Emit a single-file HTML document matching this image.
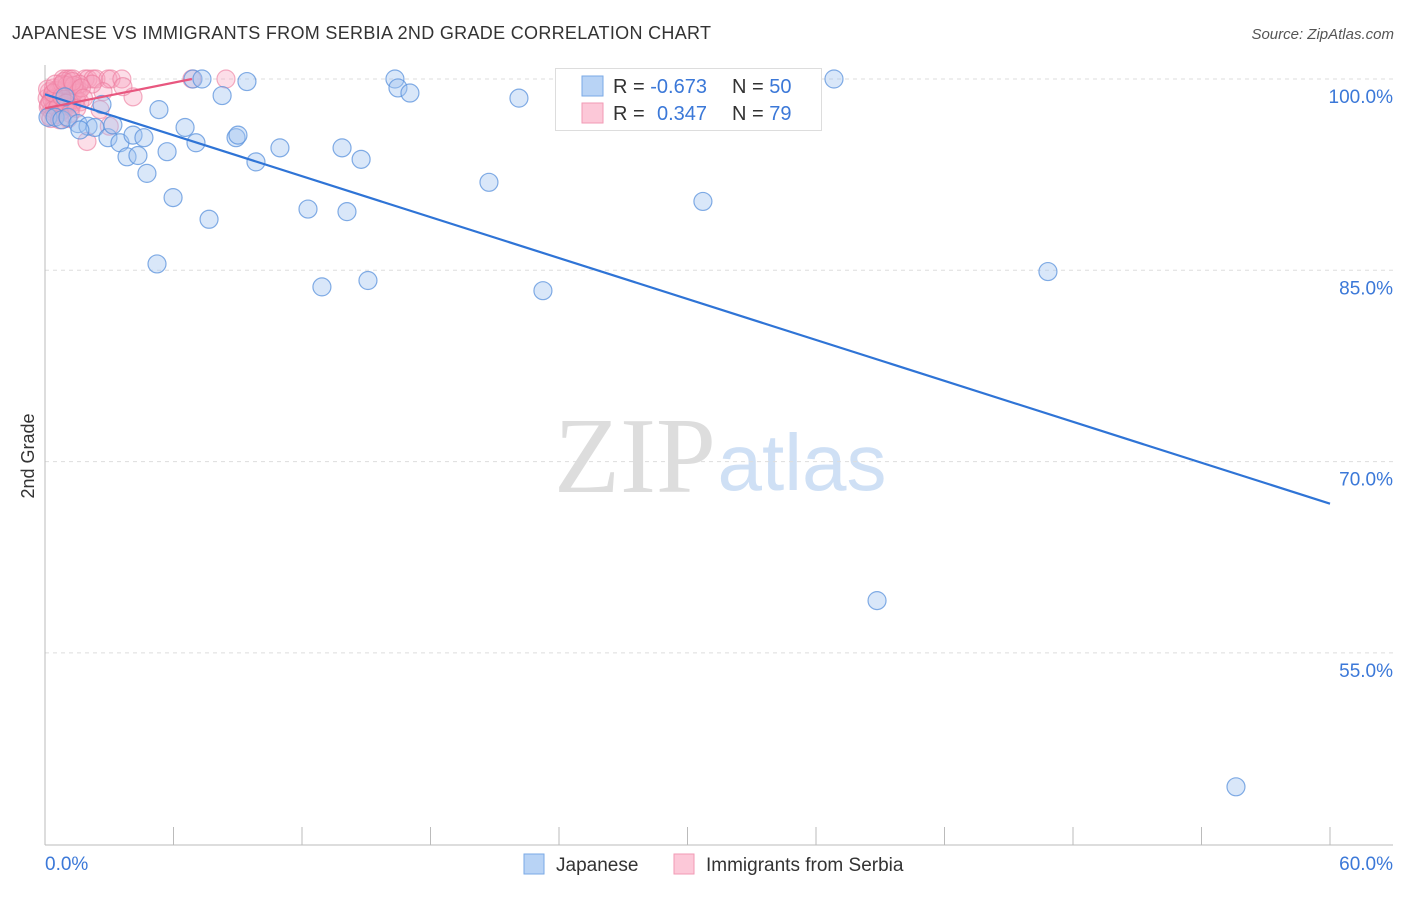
<!DOCTYPE html>
<html><head><meta charset="utf-8"><style>
body{margin:0;background:#fff;font-family:"Liberation Sans",sans-serif;}
svg text{font-family:"Liberation Sans",sans-serif;}
</style></head><body>
<svg id="chart" width="1406" height="892">
<text x="12" y="39" font-size="18" fill="#333" textLength="699">JAPANESE VS IMMIGRANTS FROM SERBIA 2ND GRADE CORRELATION CHART</text>
<text x="1394" y="39" font-size="15" fill="#555" font-style="italic" text-anchor="end">Source: ZipAtlas.com</text>
<text x="34" y="456" font-size="18" fill="#333" text-anchor="middle" transform="rotate(-90 34 456)">2nd Grade</text>
<g>
<text x="635" y="492" font-size="108" fill="#ddd" text-anchor="middle" style="font-family:'Liberation Serif',serif">ZIP</text>
<text x="802" y="490" font-size="80" fill="#cfe0f5" text-anchor="middle">atlas</text>
</g>
<g id="grid"></g><g id="axes"></g><g id="marks"></g>
<g>
<rect x="555.5" y="68.5" width="266" height="62" fill="#fff" stroke="#ddd"/>
<rect x="582" y="76" width="21" height="20" fill="#b8d3f5" stroke="#7aaae6"/>
<rect x="582" y="103" width="21" height="20" fill="#fcc8d8" stroke="#f29ab5"/>
<text x="613" y="93" font-size="20" fill="#333">R = <tspan fill="#3b78d8">-0.673</tspan><tspan x="732">N = </tspan><tspan fill="#3b78d8">50</tspan></text>
<text x="613" y="120" font-size="20" fill="#333">R = <tspan x="657" fill="#3b78d8">0.347</tspan><tspan x="732">N = </tspan><tspan fill="#3b78d8">79</tspan></text>
</g>
<g>
<rect x="524" y="854" width="20" height="20" fill="#b8d3f5" stroke="#7aaae6"/>
<text x="556" y="871" font-size="19" fill="#333">Japanese</text>
<rect x="674" y="854" width="20" height="20" fill="#fcc8d8" stroke="#f29ab5"/>
<text x="706" y="871" font-size="19" fill="#333">Immigrants from Serbia</text>
</g>
</svg>
<script>
const yTicks=[100,85,70,55];
const xTickLabels=["0.0%","60.0%"];
const blueX=[0.14,0.47,0.79,1.07,1.54,2.01,2.33,2.66,2.94,3.17,3.50,3.83,4.11,4.34,4.62,4.76,5.23,5.32,5.70,5.98,6.54,6.91,7.05,7.33,7.66,8.27,8.92,9.01,9.43,9.85,10.97,12.28,12.93,13.87,14.10,14.76,15.08,16.34,16.48,17.04,20.73,22.13,23.25,30.72,36.84,38.85,46.83,55.61,0.93,1.63];
const blueY=[97.0,97.0,96.8,97.0,96.5,96.3,96.2,98.0,95.4,96.4,95.0,93.9,95.6,94.0,95.4,92.6,85.5,97.6,94.3,90.7,96.2,100,95.0,100,89.0,98.7,95.4,95.6,99.8,93.5,94.6,89.8,83.7,94.6,89.6,93.7,84.2,100,99.3,98.9,91.9,98.5,83.4,90.4,100,59.1,84.9,44.5,98.6,96.0];
const pinkX=[0.84,1.03,1.17,1.31,1.87,2.01,2.24,2.38,2.94,3.08,3.59,6.86,8.45,1.96,4.11,3.64,2.71,1.63,2.57,3.0,1.5,2.2,0.1,0.15,0.2,0.25,0.3,0.35,0.4,0.45,0.5,0.55,0.6,0.65,0.7,0.75,0.8,0.85,0.9,0.95,1.0,1.05,1.1,1.15,1.2,1.25,1.3,1.4,1.45,1.55,1.6,0.12,0.22,0.32,0.42,0.52,0.62,0.72,0.82,0.92,1.02,1.12,1.22,1.35,0.18,0.38,0.58,0.78,0.98,1.18,0.28,0.48,0.68,0.88,1.08,1.28,1.48,1.7,1.8];
const pinkY=[100,100,100,100,100,100,100,100,100,100,100,100,100,95.1,98.6,99.4,99.0,98.2,97.6,96.3,99.2,99.6,98.5,97.8,99.0,98.2,97.5,98.8,99.3,98.0,97.2,98.6,99.0,97.8,98.3,99.5,98.9,97.6,98.4,99.2,98.7,97.9,99.0,98.5,99.4,98.1,98.8,99.1,98.4,98.9,99.6,99.2,97.1,98.4,97.6,99.1,98.2,97.4,99.6,97.9,99.5,98.2,97.8,99.5,98.0,98.9,97.7,98.6,98.1,97.3,96.9,99.6,96.8,99.8,96.9,99.8,97.7,99.3,98.5];
const blueTrend=[[0,98.8],[60,66.7]];
const pinkTrend=[[0,97.7],[6.86,100]];
const NS="http://www.w3.org/2000/svg";
const xs=v=>45+v/60*1285;
const ys=v=>79+(100-v)/15*191.3;
function mk(tag,attrs,parent){const e=document.createElementNS(NS,tag);for(const k in attrs)e.setAttribute(k,attrs[k]);document.getElementById(parent).appendChild(e);return e;}
yTicks.forEach(t=>{
 const l=mk('line',{x1:45,x2:1393,y1:ys(t),y2:ys(t),stroke:'#ddd','stroke-dasharray':'4 4'},'grid');
 
 
 const tx=mk('text',{x:1393,y:ys(t)+24,'font-size':19,fill:'#3b78d8','text-anchor':'end'},'axes');
 tx.textContent=t.toFixed(1)+'%';
 
 
});
mk('line',{x1:45,x2:45,y1:65,y2:845,stroke:'#bbb'},'axes');
const xa=mk('line',{x1:45,x2:1393,y1:845,y2:845,stroke:'#bbb'},'axes');


for(let i=0;i<=10;i++){mk('line',{x1:xs(i*6),x2:xs(i*6),y1:827,y2:845,stroke:'#bbb'},'axes');}
[[0,xTickLabels[0],'start',45],[60,xTickLabels[1],'end',1393]].forEach(d=>{
 const t=mk('text',{x:d[3],y:870,'font-size':19,fill:'#3b78d8','text-anchor':d[2]},'axes');
 t.textContent=d[1];
 
 
});
pinkX.forEach((x,i)=>{
 const c=mk('circle',{cx:xs(x),cy:ys(pinkY[i]),r:9,fill:'rgba(246,160,188,0.35)',stroke:'rgba(236,120,155,0.6)','stroke-width':1.2},'marks');
 
 
});
blueX.forEach((x,i)=>{
 const c=mk('circle',{cx:xs(x),cy:ys(blueY[i]),r:9,fill:'rgba(160,196,240,0.4)',stroke:'rgba(90,145,220,0.75)','stroke-width':1.2},'marks');
 
 
});
const bl=mk('line',{x1:xs(blueTrend[0][0]),y1:ys(blueTrend[0][1]),x2:xs(blueTrend[1][0]),y2:ys(blueTrend[1][1]),stroke:'#2f74d6','stroke-width':2.2},'marks');


const pl=mk('line',{x1:xs(pinkTrend[0][0]),y1:ys(pinkTrend[0][1]),x2:xs(pinkTrend[1][0]),y2:ys(pinkTrend[1][1]),stroke:'#e8577f','stroke-width':2.2},'marks');


</script>
</body></html>
